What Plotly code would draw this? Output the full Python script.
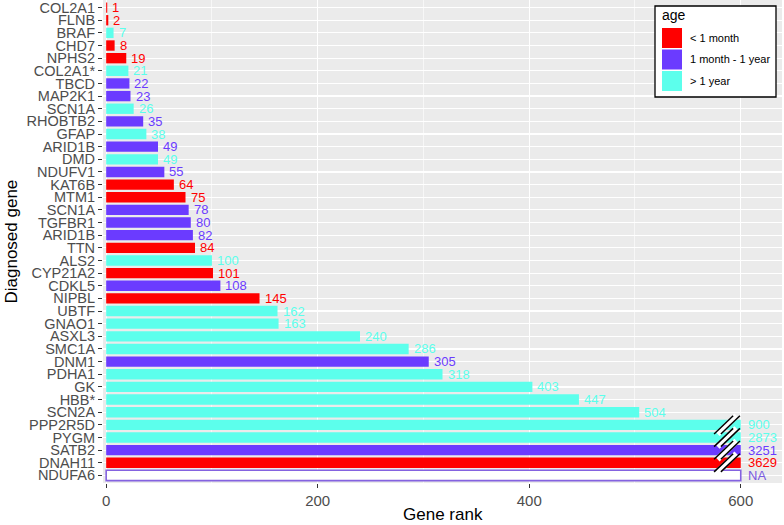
import plotly.graph_objects as go

# ---------------- data ----------------
genes = ["COL2A1", "FLNB", "BRAF", "CHD7", "NPHS2", "COL2A1*", "TBCD", "MAP2K1",
         "SCN1A", "RHOBTB2", "GFAP", "ARID1B", "DMD", "NDUFV1", "KAT6B", "MTM1",
         "SCN1A", "TGFBR1", "ARID1B", "TTN", "ALS2", "CYP21A2", "CDKL5", "NIPBL",
         "UBTF", "GNAO1", "ASXL3", "SMC1A", "DNM1", "PDHA1", "GK", "HBB*",
         "SCN2A", "PPP2R5D", "PYGM", "SATB2", "DNAH11", "NDUFA6"]
ranks = [1, 2, 7, 8, 19, 21, 22, 23,
         26, 35, 38, 49, 49, 55, 64, 75,
         78, 80, 82, 84, 100, 101, 108, 145,
         162, 163, 240, 286, 305, 318, 403, 447,
         504, 900, 2873, 3251, 3629, None]
ages = ["<1", "<1", ">1", "<1", "<1", ">1", "m", "m",
        ">1", "m", ">1", "m", ">1", "m", "<1", "<1",
        "m", "m", "m", "<1", ">1", "<1", "m", "<1",
        ">1", ">1", ">1", ">1", "m", ">1", ">1", ">1",
        ">1", ">1", ">1", "m", "<1", "NA"]
age_keys = ["<1", "m", ">1"]
age_labels = ["< 1 month", "1 month - 1 year", "> 1 year"]
x_ticks = [0, 200, 400, 600]
cap = 600

# ---------------- style ----------------
colors = {"<1": "#FF0000", "m": "#6B3BFF", ">1": "#5CFFEC", "NA": "#FFFFFF"}
text_colors = {"<1": "#FF0000", "m": "#6B3BFF", ">1": "#5CFFEC", "NA": "#7A5AE0"}
na_line = "#8462E0"
FONT = "Liberation Sans, Arial, Helvetica, sans-serif"

W, H = 784, 525
ML, MR, MT, MB = 103, 2, 0, 42

n = len(genes)
ypos = list(range(n))
disp = [cap if (r is None or r > cap) else r for r in ranks]
labels = ["NA" if r is None else str(r) for r in ranks]

fig = go.Figure()

for key in age_keys + ["NA"]:
    idx = [i for i in range(n) if ages[i] == key]
    if not idx:
        continue
    fig.add_trace(go.Bar(
        x=[disp[i] for i in idx], y=[ypos[i] for i in idx],
        orientation="h", width=0.82,
        marker=dict(color=colors[key],
                    line=dict(color=na_line if key == "NA" else colors[key],
                              width=1.6 if key == "NA" else 0)),
        showlegend=False, hoverinfo="skip"))

# value labels
for i in range(n):
    capped = ranks[i] is None or ranks[i] > cap
    fig.add_annotation(x=disp[i], y=ypos[i], text=labels[i], showarrow=False,
                       xanchor="left", yanchor="middle", xshift=6 if capped else 4,
                       borderpad=0,
                       font=dict(family=FONT, size=13, color=text_colors[ages[i]]))

# axis-break marks on capped bars
for i in range(n):
    r = ranks[i]
    if r is not None and r > cap:
        y0, y1 = ypos[i] + 0.72, ypos[i] - 0.72
        x0, x1 = cap - 22, cap - 4
        fig.add_shape(type="line", x0=x0, x1=x1, y0=y0, y1=y1,
                      line=dict(color="white", width=6))
        for off in (-3.2, 3.2):
            fig.add_shape(type="line", x0=x0 + off, x1=x1 + off, y0=y0, y1=y1,
                          line=dict(color="black", width=1.5))

# pixel -> paper helpers
pw = W - ML - MR
ph = H - MT - MB
def px(xp):
    return (xp - ML) / pw
def py(yp):
    return (H - MB - yp) / ph

# axis titles
fig.add_annotation(xref="paper", yref="paper", x=px(442.5), y=py(514), text="Gene rank",
                   showarrow=False, xanchor="center", yanchor="middle", borderpad=0,
                   font=dict(family=FONT, size=17, color="black"))
fig.add_annotation(xref="paper", yref="paper", x=px(11), y=py(241.5), text="Diagnosed gene",
                   showarrow=False, xanchor="center", yanchor="middle", textangle=-90,
                   borderpad=0, font=dict(family=FONT, size=17, color="black"))

# manual legend
fig.add_shape(type="rect", xref="paper", yref="paper",
              x0=px(655), x1=px(776), y0=py(97), y1=py(6),
              fillcolor="white", line=dict(color="black", width=1.3), layer="above")
fig.add_annotation(xref="paper", yref="paper", x=px(661), y=py(15), text="age",
                   showarrow=False, xanchor="left", yanchor="middle", borderpad=0,
                   font=dict(family=FONT, size=14, color="black"))
key_tops = [28, 49.5, 71]
for k, key in enumerate(age_keys):
    t = key_tops[k]
    fig.add_shape(type="rect", xref="paper", yref="paper",
                  x0=px(662), x1=px(682), y0=py(t + 20), y1=py(t),
                  fillcolor=colors[key], line=dict(width=0), layer="above")
    fig.add_annotation(xref="paper", yref="paper", x=px(689), y=py(t + 10),
                       text=age_labels[k], showarrow=False, borderpad=0,
                       xanchor="left", yanchor="middle",
                       font=dict(family=FONT, size=11, color="black"))

fig.update_layout(
    width=W, height=H,
    margin=dict(l=ML, r=MR, t=MT, b=MB),
    paper_bgcolor="white", plot_bgcolor="#EBEBEB",
    font=dict(family=FONT, color="#4D4D4D"),
    bargap=0.18,
)
fig.update_xaxes(
    range=[-3, 639], tickvals=x_ticks, ticktext=[str(v) for v in x_ticks],
    showgrid=True, gridcolor="white", gridwidth=1.2, zeroline=False,
    minor=dict(tickvals=[100, 300, 500], showgrid=True, gridcolor="white", gridwidth=0.6, ticklen=0),
    ticks="outside", ticklen=4, tickcolor="#333333", tickwidth=1,
    tickfont=dict(family=FONT, size=15, color="#4D4D4D"),
    automargin=False, showline=False, ticklabeloverflow="allow",
)
fig.update_yaxes(
    range=[n - 1 + 0.6, -0.6], tickvals=ypos, ticktext=genes,
    showgrid=True, gridcolor="white", gridwidth=1.2, zeroline=False,
    ticks="outside", ticklen=4, tickcolor="#333333", tickwidth=1,
    tickfont=dict(family=FONT, size=14.5, color="#4D4D4D"),
    automargin=False, showline=False, ticklabeloverflow="allow",
)

fig.write_html("out.html",
               config={"displayModeBar": False, "staticPlot": True},
               post_script="document.body.style.margin='0';document.body.style.padding='0';")
